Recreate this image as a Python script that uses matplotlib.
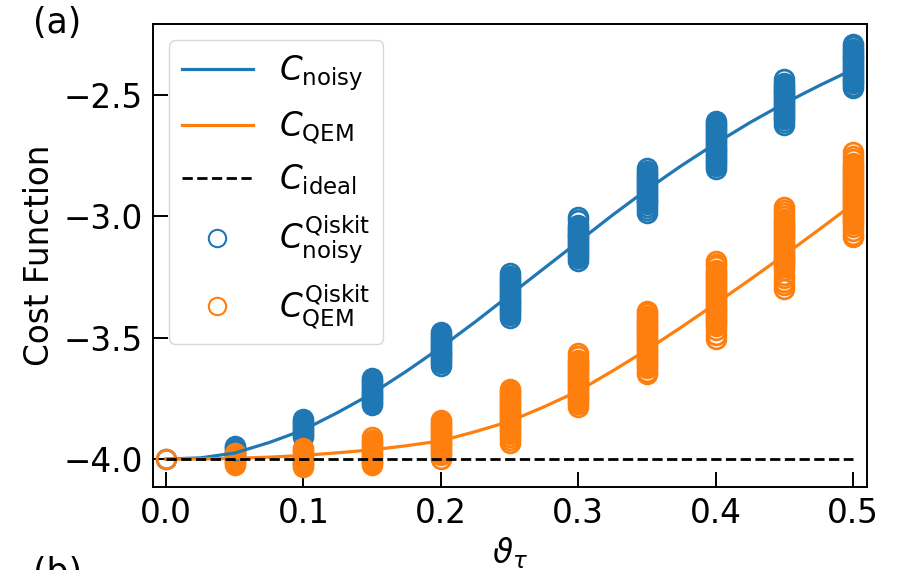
import numpy as np
import matplotlib
matplotlib.use("Agg")
import matplotlib.pyplot as plt

# smooth model curves, every 0.025
theta_curve = [0.0, 0.025, 0.05, 0.075, 0.1, 0.125, 0.15, 0.175, 0.2, 0.225, 0.25,
               0.275, 0.3, 0.325, 0.35, 0.375, 0.4, 0.425, 0.45, 0.475, 0.5]
c_noisy = [-4.0, -3.995, -3.975, -3.932, -3.88, -3.808, -3.73, -3.638, -3.54, -3.435, -3.325,
           -3.215, -3.105, -2.995, -2.89, -2.792, -2.70, -2.614, -2.535, -2.463, -2.395]
c_qem = [-4.0, -3.9993, -3.997, -3.992, -3.985, -3.974, -3.962, -3.945, -3.925, -3.887, -3.845,
         -3.785, -3.72, -3.637, -3.55, -3.457, -3.36, -3.261, -3.16, -3.056, -2.95]
c_ideal = [-4.0] * len(theta_curve)

# Qiskit samples per theta
theta_points = [0.0, 0.05, 0.1, 0.15, 0.2, 0.25, 0.3, 0.35, 0.4, 0.45, 0.5]
noisy_samples = [
    [-4.0],
    [-3.945, -3.952, -3.96, -3.968, -3.975, -3.982, -3.99],
    [-3.835, -3.843, -3.851, -3.859, -3.867, -3.875, -3.883, -3.891, -3.899, -3.907],
    [-3.666, -3.674, -3.682, -3.690, -3.698, -3.706, -3.714, -3.722, -3.730, -3.738, -3.746,
     -3.754, -3.762, -3.770, -3.777],
    [-3.477, -3.485, -3.493, -3.501, -3.509, -3.517, -3.525, -3.533, -3.541, -3.549, -3.557,
     -3.565, -3.573, -3.581, -3.589, -3.597, -3.605, -3.617],
    [-3.234, -3.247, -3.255, -3.263, -3.271, -3.279, -3.287, -3.295, -3.303, -3.311, -3.319,
     -3.327, -3.335, -3.343, -3.351, -3.359, -3.367, -3.375, -3.383, -3.391, -3.399, -3.407, -3.419],
    [-3.003, -3.015, -3.035, -3.043, -3.051, -3.059, -3.067, -3.075, -3.083, -3.091, -3.099,
     -3.107, -3.115, -3.123, -3.131, -3.139, -3.147, -3.155, -3.163, -3.171, -3.184],
    [-2.800, -2.815, -2.823, -2.831, -2.839, -2.847, -2.855, -2.863, -2.871, -2.879, -2.887,
     -2.895, -2.903, -2.911, -2.919, -2.927, -2.935, -2.943, -2.951, -2.960, -2.975, -2.986],
    [-2.609, -2.617, -2.625, -2.633, -2.641, -2.649, -2.657, -2.665, -2.673, -2.681, -2.689,
     -2.697, -2.705, -2.713, -2.721, -2.729, -2.737, -2.745, -2.753, -2.761, -2.769, -2.777,
     -2.785, -2.793, -2.805],
    [-2.436, -2.450, -2.458, -2.466, -2.474, -2.482, -2.490, -2.498, -2.506, -2.514, -2.522,
     -2.530, -2.538, -2.546, -2.554, -2.562, -2.570, -2.578, -2.586, -2.594, -2.600, -2.612, -2.624],
    [-2.290, -2.300, -2.310, -2.318, -2.326, -2.334, -2.342, -2.350, -2.358, -2.366, -2.374,
     -2.382, -2.390, -2.398, -2.406, -2.414, -2.422, -2.430, -2.438, -2.446, -2.450, -2.462, -2.471],
]
qem_samples = [
    [-4.0],
    [-3.975, -3.983, -3.99, -3.998, -4.005, -4.012, -4.018, -4.025],
    [-3.955, -3.963, -3.971, -3.979, -3.987, -3.995, -4.003, -4.011, -4.019, -4.026, -4.033],
    [-3.909, -3.922, -3.930, -3.938, -3.946, -3.954, -3.962, -3.970, -3.978, -3.986, -3.994,
     -4.002, -4.010, -4.018, -4.025],
    [-3.840, -3.848, -3.856, -3.864, -3.872, -3.880, -3.888, -3.896, -3.904, -3.912, -3.920,
     -3.928, -3.936, -3.944, -3.952, -3.960, -3.968, -3.976, -3.984, -4.000],
    [-3.712, -3.720, -3.728, -3.736, -3.744, -3.752, -3.760, -3.768, -3.776, -3.784, -3.792,
     -3.800, -3.808, -3.816, -3.824, -3.832, -3.840, -3.848, -3.856, -3.864, -3.872, -3.880,
     -3.888, -3.896, -3.910, -3.922, -3.934],
    [-3.563, -3.575, -3.590, -3.598, -3.606, -3.614, -3.622, -3.630, -3.638, -3.646, -3.654,
     -3.662, -3.670, -3.678, -3.686, -3.694, -3.702, -3.710, -3.718, -3.726, -3.734, -3.742,
     -3.750, -3.758, -3.766, -3.774, -3.786],
    [-3.390, -3.400, -3.410, -3.418, -3.426, -3.434, -3.442, -3.450, -3.458, -3.466, -3.474,
     -3.482, -3.490, -3.498, -3.506, -3.514, -3.522, -3.530, -3.538, -3.546, -3.554, -3.562,
     -3.570, -3.578, -3.586, -3.594, -3.602, -3.610, -3.618, -3.625, -3.640, -3.650],
    [-3.186, -3.195, -3.205, -3.220, -3.228, -3.236, -3.244, -3.252, -3.260, -3.268, -3.276,
     -3.284, -3.292, -3.300, -3.308, -3.316, -3.324, -3.332, -3.340, -3.348, -3.356, -3.364,
     -3.372, -3.380, -3.388, -3.396, -3.404, -3.412, -3.420, -3.428, -3.436, -3.444, -3.450,
     -3.470, -3.490, -3.504],
    [-2.962, -2.975, -2.985, -3.000, -3.010, -3.018, -3.026, -3.034, -3.042, -3.050, -3.058,
     -3.066, -3.074, -3.082, -3.090, -3.098, -3.106, -3.114, -3.122, -3.130, -3.138, -3.146,
     -3.154, -3.162, -3.170, -3.178, -3.186, -3.194, -3.202, -3.210, -3.220, -3.240, -3.255,
     -3.270, -3.285, -3.300],
    [-2.735, -2.750, -2.765, -2.780, -2.790, -2.798, -2.806, -2.814, -2.822, -2.830, -2.838,
     -2.846, -2.854, -2.862, -2.870, -2.878, -2.886, -2.894, -2.902, -2.910, -2.918, -2.926,
     -2.934, -2.942, -2.950, -2.958, -2.966, -2.974, -2.982, -2.990, -2.998, -3.006, -3.014,
     -3.022, -3.030, -3.045, -3.060, -3.075, -3.085],
]

blue = "#1f77b4"
orange = "#ff7f0e"
fs = 23.5

fig = plt.figure(figsize=(9.02, 5.70), dpi=100)
ax = fig.add_axes([0.1696, 0.1456, 0.7916, 0.8123])

# scatter clusters (hollow circles)
for t, vals in zip(theta_points, noisy_samples):
    h_noisy_q, = ax.plot([t] * len(vals), vals, ls="none", marker="o", ms=13.5,
                         mfc="none", mec=blue, mew=2.0)
for t, vals in zip(theta_points, qem_samples):
    h_qem_q, = ax.plot([t] * len(vals), vals, ls="none", marker="o", ms=13.5,
                       mfc="none", mec=orange, mew=2.0)

h_noisy, = ax.plot(theta_curve, c_noisy, color=blue, lw=2.3)
h_qem, = ax.plot(theta_curve, c_qem, color=orange, lw=2.3)
h_ideal, = ax.plot(theta_curve, c_ideal, color="black", ls="--", lw=2.0)

ax.set_xlim(-0.0095, 0.5102)
ax.set_ylim(-4.115, -2.208)
ax.set_xticks([0.0, 0.1, 0.2, 0.3, 0.4, 0.5])
ax.set_yticks([-4.0, -3.5, -3.0, -2.5])
ax.tick_params(direction="in", length=11, width=1.4, labelsize=fs, pad=7)
for s in ax.spines.values():
    s.set_linewidth(1.4)

ax.set_xlabel(r"$\vartheta_\tau$", fontsize=fs, labelpad=4)
ax.set_ylabel("Cost Function", fontsize=fs, labelpad=6)

leg = ax.legend([h_noisy, h_qem, h_ideal, h_noisy_q, h_qem_q],
                [r"$C_\mathrm{noisy}$", r"$C_\mathrm{QEM}$", r"$C_\mathrm{ideal}$",
                 r"$C^\mathrm{Qiskit}_\mathrm{noisy}$", r"$C^\mathrm{Qiskit}_\mathrm{QEM}$"],
                loc="upper left", fontsize=fs, numpoints=1, handlelength=2.15,
                labelspacing=0.5, borderaxespad=0.5)
for h in leg.legend_handles[3:]:
    h.set_markeredgewidth(1.5)
    h.set_markersize(12.5)

fig.text(0.037, 0.99, "(a)", fontsize=25, va="top")
fig.text(0.037, -0.035, "(b)", fontsize=25, va="bottom")

fig.savefig("out.png", dpi=100)
